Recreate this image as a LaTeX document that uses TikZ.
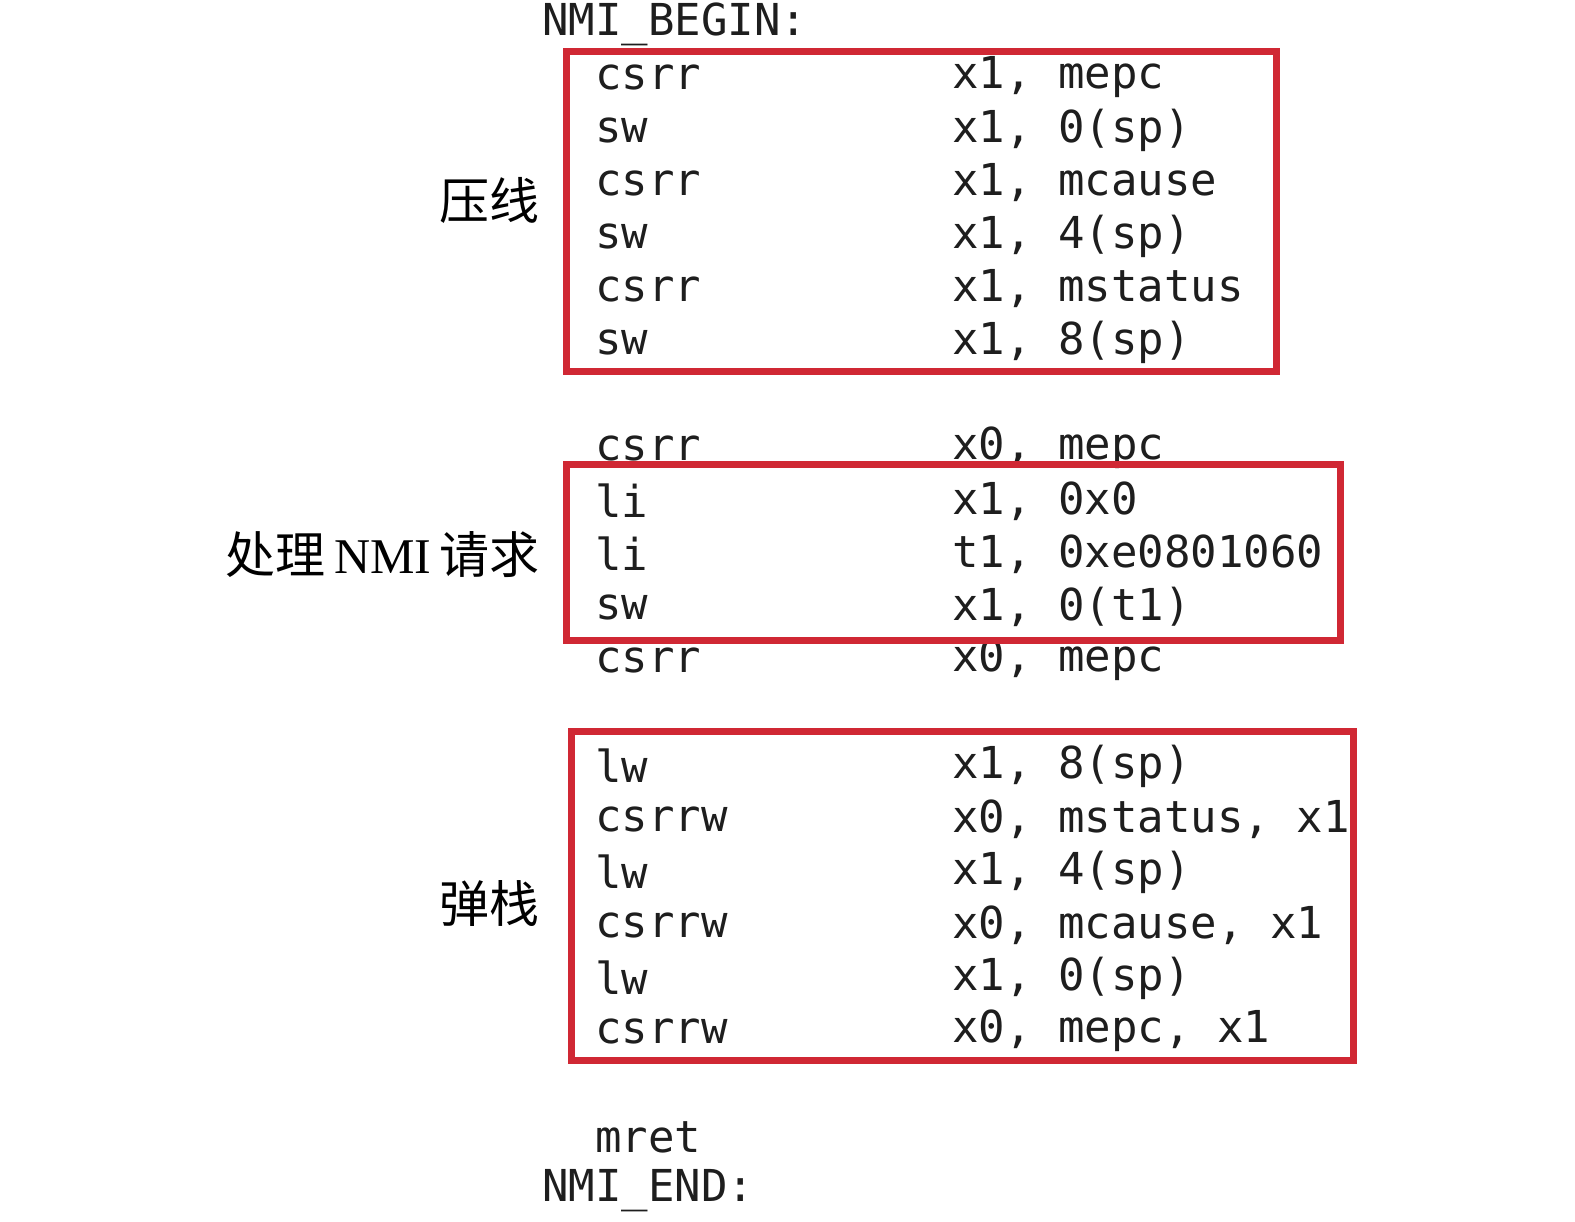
\documentclass[tikz,border=0pt]{standalone}
\usepackage{fontspec}
\setmonofont{DejaVu Sans Mono}
\setmainfont{Liberation Serif}
\newfontfamily\cjk{Noto Sans CJK SC}
\definecolor{boxred}{RGB}{208,40,52}
\definecolor{codegray}{RGB}{30,30,30}
\begin{document}
\begin{tikzpicture}[x=1pt,y=-1pt,
  code/.style={anchor=west,inner sep=0pt,font=\fontsize{44}{44}\selectfont\ttfamily,text=codegray},
  lab/.style={anchor=east,inner sep=0pt,font=\fontsize{50}{50}\selectfont},
  redbox/.style={draw=boxred,line width=7pt}]
\useasboundingbox (0,0) rectangle (1575,1222);
\node[code] (b) at (542,24) {NMI\_BEGIN:};
\foreach \i/\y/\a/\b in {1/77/csrr/{x1, mepc},2/130/sw/{x1, 0(sp)},3/183/csrr/{x1, mcause},4/236/sw/{x1, 4(sp)},5/289/csrr/{x1, mstatus},6/342/sw/{x1, 8(sp)},
 7/448/csrr/{x0, mepc},8/501/li/{x1, 0x0},9/554/li/{t1, 0xe0801060},10/607/sw/{x1, 0(t1)},11/660/csrr/{x0, mepc},
 12/766/lw/{x1, 8(sp)},13/819/csrrw/{x0, mstatus, x1},14/872/lw/{x1, 4(sp)},15/925/csrrw/{x0, mcause, x1},16/978/lw/{x1, 0(sp)},17/1031/csrrw/{x0, mepc, x1},18/1137/mret/{}}{
  \node[code] (o\i) at (595,\y) {\a};
  \node[code] (r\i) at (952,\y) {\b};
}
\node[code] (e) at (542,1191) {NMI\_END:};
\draw[redbox] (566,52) rectangle (1276,372);
\draw[redbox] (566,465) rectangle (1340,640);
\draw[redbox] (571,731) rectangle (1353,1060);
\node[lab] (l1) at (540,200) {\cjk 压线};
\node[lab] (l2) at (540,555) {\cjk 处理\,\rmfamily NMI\,\cjk 请求};
\node[lab] (l3) at (540,903) {\cjk 弹栈};
\end{tikzpicture}
\end{document}
